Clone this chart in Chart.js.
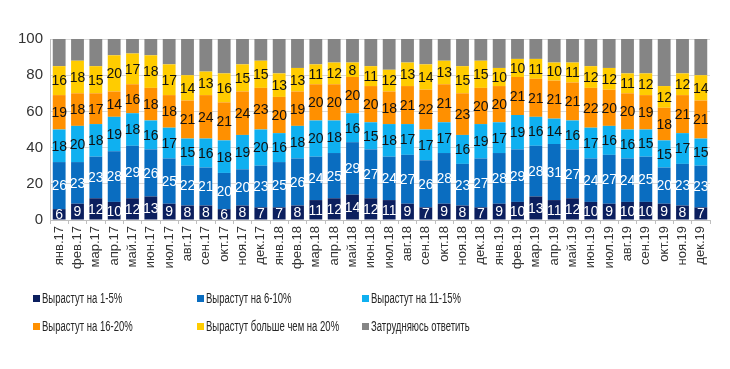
<!DOCTYPE html>
<html>
<head>
<meta charset="utf-8">
<script src="https://cdn.jsdelivr.net/npm/chart.js@4/dist/chart.umd.min.js"></script>
<style>
    html, body { margin: 0; padding: 0; background: #fff; }
    #wrap { position: relative; width: 730px; height: 369px; }
    #legend { position: absolute; left: 0; top: 0; width: 730px; height: 369px; pointer-events: none;
        font-family: "Liberation Sans", sans-serif; font-size: 14px; color: #262626; }
    .item { position: absolute; display: flex; align-items: center; white-space: nowrap; }
    .box { width: 7px; height: 7px; margin-right: 2px; flex: none; }
    .txt { display: inline-block; transform: scaleX(0.68); transform-origin: left center; }
</style>
</head>
<body>
<div id="wrap">
    <canvas id="c" width="730" height="369"></canvas>
    <div id="legend"></div>
</div>
<script>
const months = [
    'янв.17', 'фев.17', 'мар.17', 'апр.17', 'май.17', 'июн.17', 'июл.17', 'авг.17', 'сен.17', 'окт.17', 'ноя.17', 'дек.17',
    'янв.18', 'фев.18', 'мар.18', 'апр.18', 'май.18', 'июн.18', 'июл.18', 'авг.18', 'сен.18', 'окт.18', 'ноя.18', 'дек.18',
    'янв.19', 'фев.19', 'мар.19', 'апр.19', 'май.19', 'июн.19', 'июл.19', 'авг.19', 'сен.19', 'окт.19', 'ноя.19', 'дек.19',
];

const grow1to5 = [6, 9, 12, 10, 12, 13, 9, 8, 8, 6, 8, 7, 7, 8, 11, 12, 14, 12, 11, 9, 7, 9, 8, 7, 9, 10, 13, 11, 12, 10, 9, 10, 10, 9, 8, 7];
const grow6to10 = [26, 23, 23, 28, 29, 26, 25, 22, 21, 20, 20, 23, 25, 26, 24, 25, 29, 27, 24, 27, 26, 28, 23, 27, 28, 29, 28, 31, 27, 24, 27, 24, 25, 20, 23, 23];
const grow11to15 = [18, 20, 18, 19, 18, 16, 17, 15, 16, 18, 19, 20, 16, 18, 20, 18, 16, 15, 18, 17, 17, 17, 16, 19, 17, 19, 16, 14, 16, 17, 16, 16, 15, 15, 17, 15];
const grow16to20 = [19, 18, 17, 14, 16, 18, 18, 21, 24, 21, 24, 23, 20, 19, 20, 20, 20, 20, 18, 21, 22, 21, 23, 20, 20, 21, 21, 21, 21, 22, 20, 20, 19, 18, 21, 21];
const growOver20 = [16, 18, 15, 20, 17, 18, 17, 14, 13, 16, 15, 15, 13, 13, 11, 12, 8, 11, 12, 13, 14, 13, 15, 15, 10, 10, 11, 10, 11, 12, 12, 11, 12, 12, 12, 14];
const hardToSay = [15, 12, 15, 9, 8, 9, 14, 20, 18, 19, 14, 12, 19, 16, 14, 13, 13, 15, 17, 13, 14, 12, 15, 12, 16, 11, 11, 13, 13, 15, 16, 19, 19, 26, 19, 20];

const yTicks = [0, 10, 20, 30, 40, 50, 60, 70, 80, 90, 100];

const series = [
    { label: 'Вырастут на 1-5%', data: grow1to5, color: '#0b1f5e', text: '#ffffff' },
    { label: 'Вырастут на 6-10%', data: grow6to10, color: '#0a6dc0', text: '#ffffff' },
    { label: 'Вырастут на 11-15%', data: grow11to15, color: '#0fb0f0', text: '#111111' },
    { label: 'Вырастут на 16-20%', data: grow16to20, color: '#ff9000', text: '#111111' },
    { label: 'Вырастут больше чем на 20%', data: growOver20, color: '#ffcc00', text: '#111111' },
    { label: 'Затрудняюсь ответить', data: hardToSay, color: '#858585', text: null },
];

const FONT = '"Liberation Sans", sans-serif';

/* numbers inside the segments, not for the grey one */
const segmentLabels = {
    id: 'segmentLabels',
    afterDatasetsDraw(chart) {
        const ctx = chart.ctx;
        ctx.save();
        ctx.font = '14px ' + FONT;
        ctx.textAlign = 'center';
        ctx.textBaseline = 'middle';
        chart.data.datasets.forEach((ds, i) => {
            if (!series[i].text) return;
            chart.getDatasetMeta(i).data.forEach((bar, j) => {
                ctx.fillStyle = series[i].text;
                ctx.fillText(String(ds.data[j]), bar.x, (bar.y + bar.base) / 2 + 1);
            });
        });
        ctx.restore();
    },
};

new Chart(document.getElementById('c'), {
    type: 'bar',
    data: {
        labels: months,
        datasets: series.map(s => ({
            label: s.label,
            data: s.data,
            backgroundColor: s.color,
            borderWidth: 0,
            categoryPercentage: 1,
            barPercentage: 0.7,
        })),
    },
    options: {
        responsive: false,
        animation: false,
        layout: { padding: { top: 39, right: 20, left: 0, bottom: 0 } },
        plugins: { legend: { display: false }, tooltip: { enabled: false } },
        scales: {
            x: {
                stacked: true,
                grid: { display: true, drawOnChartArea: false, color: '#bfbfbf', tickLength: 4, offset: true },
                border: { color: '#bfbfbf' },
                ticks: { color: '#333', font: { family: FONT, size: 13 }, maxRotation: 90, minRotation: 90, autoSkip: false, padding: 2 },
                afterFit(scale) { scale.height = 149; },
            },
            y: {
                stacked: true,
                min: 0,
                max: 100,
                afterBuildTicks(scale) { scale.ticks = yTicks.map(v => ({ value: v })); },
                grid: { color: '#d9d9d9', drawTicks: false },
                border: { color: '#bfbfbf' },
                ticks: { color: '#333', font: { family: FONT, size: 15 }, padding: 7 },
                afterFit(scale) { scale.width = 50; },
            },
        },
    },
    plugins: [segmentLabels],
});

// legend in 3 columns x 2 rows like the original
const legendEl = document.getElementById('legend');
const colX = [33, 197, 362];
const rowY = [290, 318];
series.forEach((s, i) => {
    const item = document.createElement('div');
    item.className = 'item';
    item.style.left = colX[i % 3] + 'px';
    item.style.top = rowY[Math.floor(i / 3)] + 'px';
    const box = document.createElement('span');
    box.className = 'box';
    box.style.background = s.color;
    const txt = document.createElement('span');
    txt.className = 'txt';
    txt.textContent = s.label;
    item.appendChild(box);
    item.appendChild(txt);
    legendEl.appendChild(item);
});
</script>
</body>
</html>
